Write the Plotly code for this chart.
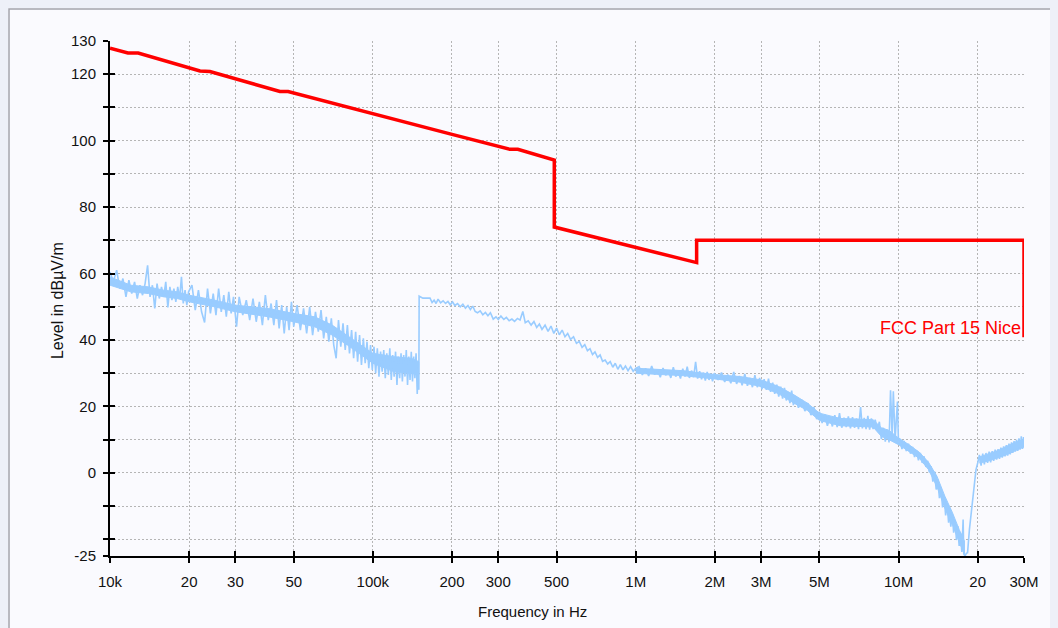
import math
import plotly.graph_objects as go

# ---------------- data ----------------
# Limit line "FCC Part 15 Nice" (frequency in kHz, level in dBuV/m)
limit_khz = [10, 11.7, 12.8, 22, 24, 44.3, 47.6, 100, 200, 332, 356, 490, 490, 1705, 1705, 30000, 30000]
limit_db = [127.8, 126.4, 126.4, 121.0, 120.8, 114.8, 114.8, 108.0, 101.9, 97.4, 97.4, 94.2, 74.0, 63.3, 70.0, 70.0, 40.8]

# Measured trace, split into frequency bands (kHz / dBuV/m)
seg1_khz = [10.0, 10.3, 10.6, 10.9, 11.2, 11.5, 11.8, 12.1, 12.4, 12.7, 13.0, 13.3, 13.6, 13.9, 14.2, 14.5, 14.8,
            15.1, 15.4, 15.7, 16.0, 16.3, 16.6, 16.9, 17.2, 17.5, 17.8, 18.1, 18.4, 18.7, 19.0, 19.3, 19.6, 19.9]
seg1_db = [60.5, 57.5, 61.0, 55.5, 58.5, 53.0, 58.0, 54.0, 57.5, 52.5, 56.5, 53.5, 57.0, 62.5, 53.0, 56.5, 49.5,
           57.0, 52.5, 56.0, 53.0, 57.5, 49.8, 56.0, 52.0, 55.5, 51.5, 56.0, 52.5, 59.0, 51.0, 55.0, 50.5, 54.5]

seg2_khz = [20.5, 21.1, 21.7, 22.3, 22.9, 23.5, 24.1, 24.7, 25.3, 25.9, 26.5, 27.1, 27.7, 28.3, 28.9, 29.5,
            30.3, 31, 32, 33, 34, 35, 36, 37, 38, 39, 40, 41, 42, 43, 44, 45, 46, 47, 48, 49, 50]
seg2_db = [56.5, 49.0, 55.0, 48.5, 45.3, 55.5, 48.0, 54.0, 47.5, 55.5, 48.5, 53.5, 47.0, 54.5, 48.0, 53.0,
           44.0, 53.0, 47.5, 52.0, 46.0, 52.5, 45.5, 51.5, 44.5, 53.5, 46.0, 51.0, 44.5, 52.0, 43.5, 50.5, 42.0,
           50.0, 43.0, 51.5, 44.0]

seg3_khz = [51.5, 53, 54.5, 56, 57.5, 59, 60.5, 62, 63.5, 65, 66.5, 68, 69.5, 71, 72.5, 74, 75.5, 77, 78.5, 80,
            81.5, 83, 84.5, 86, 87.5, 89, 90.5, 92, 93.5, 95, 96.5, 98, 99.5]
seg3_db = [50.5, 43.0, 49.5, 42.0, 50.0, 41.5, 48.5, 42.5, 49.0, 40.5, 47.0, 39.5, 46.5, 38.5, 34.5, 46.0, 38.0,
           45.0, 37.0, 44.5, 36.0, 43.0, 34.5, 42.5, 33.5, 41.5, 32.5, 40.5, 33.0, 39.5, 31.5, 38.5, 31.0]

seg4_khz = [101, 102.5, 104, 105.5, 107, 108.5, 110, 111.5, 113, 114.5, 116, 117.5, 119, 120.5, 122, 123.5, 125,
            126.5, 128, 129.5, 131, 132.5, 134, 135.5, 137, 138.5, 140, 141.5, 143, 144.5, 146, 147.5, 149, 149.6]
seg4_db = [38.0, 30.0, 37.5, 29.0, 36.5, 30.5, 37.0, 28.5, 36.0, 29.5, 37.5, 28.0, 35.5, 29.0, 36.5, 26.5, 35.0,
           28.5, 36.0, 27.5, 35.5, 29.0, 37.0, 26.5, 35.0, 28.0, 36.5, 27.5, 35.0, 28.5, 36.0, 23.8, 33.5, 25.0]

seg5_khz = [150, 155, 160, 165, 168, 171, 174, 177, 181, 185, 189, 193, 197, 201, 205, 210, 215, 220, 225, 230,
            235, 240, 245, 250, 256, 262, 268, 274, 280, 287, 294, 300, 307, 315, 322, 330, 338, 346, 355, 363,
            372, 380, 390, 400, 410, 420, 430, 440, 452, 464, 476, 488, 500, 512, 525, 538, 551, 565, 580, 595,
            610, 625, 640, 655, 670, 685, 700, 716, 732, 748, 765, 782, 800, 818, 836, 855, 874, 894, 914, 935,
            956, 978, 1000]
seg5_db = [53.2, 52.6, 52.6, 52.6, 51.3, 52.0, 51.0, 52.3, 51.2, 51.8, 51.0, 51.6, 50.6, 51.5, 50.4, 51.0, 50.0,
           50.8, 49.6, 50.4, 49.2, 50.2, 48.6, 48.2, 48.8, 47.6, 48.3, 47.3, 48.2, 46.3, 47.0, 46.2, 47.2, 46.2,
           46.8, 45.8, 46.3, 45.6, 46.5, 46.0, 48.6, 45.2, 45.8, 44.5, 45.6, 43.8, 44.8, 43.2, 44.5, 42.6, 44.2,
           42.0, 43.6, 41.6, 43.0, 41.0, 42.0, 40.2, 41.0, 39.0, 39.6, 37.8, 38.6, 36.8, 37.4, 35.6, 36.4, 34.8,
           35.5, 33.6, 34.0, 32.8, 33.5, 31.8, 33.0, 31.2, 32.6, 31.0, 32.2, 30.8, 32.0, 30.6, 31.5]

seg6_khz = [1030, 1060, 1090, 1120, 1150, 1180, 1210, 1240, 1270, 1300, 1330, 1360, 1390, 1420, 1450, 1480, 1510,
            1540, 1570, 1600, 1630, 1660, 1690, 1720, 1750, 1780, 1810, 1840, 1870, 1900, 1930, 1960, 1990]
seg6_db = [32.0, 29.5, 31.5, 29.2, 32.2, 29.6, 31.0, 28.8, 31.6, 29.4, 30.8, 28.6, 31.8, 29.0, 30.6, 28.4, 31.4,
           29.0, 32.0, 28.6, 30.8, 28.8, 33.4, 28.4, 30.6, 28.2, 30.2, 27.8, 30.4, 28.0, 29.8, 27.6, 30.0]

seg7_khz = [2060, 2120, 2180, 2240, 2300, 2360, 2420, 2480, 2540, 2600, 2660, 2720, 2780, 2840, 2900, 2960, 3020,
            3080, 3140, 3200, 3260, 3320, 3380, 3440, 3500, 3560, 3620, 3680, 3740, 3800, 3860, 3920, 3980]
seg7_db = [28.0, 30.2, 27.4, 29.6, 27.0, 30.4, 26.8, 29.2, 26.4, 29.8, 26.2, 28.6, 25.8, 29.4, 25.8, 28.6, 25.2,
           28.2, 25.0, 28.4, 24.4, 27.2, 23.8, 26.6, 23.0, 26.0, 22.4, 25.6, 21.8, 24.2, 21.0, 24.8, 20.4]

seg8_khz = [4040, 4160, 4280, 4400, 4520, 4640, 4760, 4880, 5000, 5120, 5240, 5360, 5480, 5600, 5720, 5840, 5960,
            6080, 6200, 6320, 6440, 6560, 6680, 6800, 6920, 7040, 7170, 7280, 7400, 7520, 7640, 7760, 7880, 8000]
seg8_db = [23.2, 19.6, 22.0, 18.6, 21.0, 17.4, 19.8, 16.2, 18.4, 15.0, 17.6, 14.2, 16.8, 14.0, 17.4, 13.8, 18.0,
           13.6, 16.6, 13.8, 17.0, 13.4, 16.8, 13.6, 16.4, 13.2, 19.8, 13.4, 16.6, 13.2, 17.2, 13.0, 16.4, 13.2]

seg9_khz = [8150, 8300, 8450, 8600, 8750, 8900, 9050, 9200, 9320, 9450, 9550, 9700, 9900, 9980]
seg9_db = [16.0, 12.8, 15.4, 10.2, 13.6, 9.4, 13.0, 9.2, 24.9, 11.0, 24.6, 10.0, 21.5, 10.5]

seg10_khz = [10100, 10300, 10500, 10700, 10900, 11100, 11300, 11500, 11700, 11900, 12100, 12300, 12500, 12700,
             12900, 13100, 13300, 13500, 13700, 13900, 14100, 14300, 14500, 14700, 14900, 15100, 15300, 15500,
             15600, 15800, 16000, 16200, 16400, 16600, 16800, 17000, 17200, 17400, 17600, 17700, 17900, 18100,
             18300, 18600, 19000, 19400, 19700, 20000]
seg10_db = [10.2, 7.2, 9.6, 6.6, 8.8, 5.8, 7.8, 4.8, 6.8, 3.8, 6.0, 3.0, 5.0, 1.8, 3.6, 0.2, 2.0, -2.6, 0.4,
            -5.0, -2.0, -7.6, -4.4, -10.4, -7.0, -12.8, -9.6, -15.0, -10.5, -16.2, -12.2, -18.0, -14.2, -20.2,
            -16.0, -22.0, -18.0, -23.8, -14.0, -24.4, -25.0, -24.2, -24.0, -17.0, -10.5, -3.5, 1.0, 3.0]

seg11_khz = [20300, 20600, 20900, 21200, 21500, 21800, 22100, 22400, 22700, 23000, 23300, 23600, 23900, 24200,
             24500, 24800, 25100, 25400, 25700, 26000, 26300, 26600, 26900, 27200, 27500, 27800, 28100, 28400,
             28700, 29000, 29300, 29600, 29900, 30000]
seg11_db = [5.4, 2.2, 5.8, 2.6, 6.0, 3.0, 6.4, 3.2, 6.6, 3.6, 7.0, 4.0, 7.2, 4.2, 7.6, 4.6, 8.0, 5.0, 8.4, 5.2,
            8.8, 5.6, 9.2, 6.0, 9.6, 6.4, 10.0, 6.6, 10.4, 7.0, 11.0, 7.2, 10.8, 9.0]

# Solid core of the noisy band (kHz, lower / upper level)
core1_khz = [10, 12, 14, 16, 18, 20, 25, 30, 40, 50, 60, 70, 80, 90, 100, 120, 140, 149.6]
core1_lo = [56.5, 54.5, 54.0, 53.0, 52.5, 51.5, 50.0, 48.5, 47.0, 45.5, 44.0, 41.5, 38.5, 35.5, 33.0, 30.5, 30.0, 29.5]
core1_hi = [59.0, 56.5, 56.0, 55.0, 54.5, 53.5, 52.0, 50.5, 49.5, 48.0, 47.0, 44.5, 41.5, 38.5, 36.0, 35.0, 34.5, 33.5]

core2_khz = [1000, 1500, 2000, 2500, 3000, 3500, 4000, 4500, 5000, 6000, 7000, 8000, 8600, 9200, 10000, 11000,
             12000, 13000, 14000, 15000, 16000, 17000, 17800]
core2_lo = [30.0, 29.3, 28.3, 27.3, 26.0, 23.8, 21.0, 18.8, 15.8, 14.2, 14.0, 13.8, 11.0, 10.0, 8.5, 6.4, 4.4, 1.0,
            -4.2, -10.6, -15.4, -20.8, -24.5]
core2_hi = [31.5, 30.8, 29.6, 29.0, 28.0, 26.0, 23.5, 21.0, 18.0, 16.4, 16.2, 16.0, 13.6, 12.8, 10.5, 8.4, 6.2, 3.2,
            -1.0, -7.0, -11.8, -17.0, -20.5]

core3_khz = [20300, 22000, 24000, 26000, 28000, 30000]
core3_lo = [3.0, 3.6, 4.6, 5.6, 6.8, 7.8]
core3_hi = [4.8, 5.8, 6.8, 8.2, 9.4, 10.0]

# Axis ticks
x_tick_hz = [1e4, 2e4, 3e4, 5e4, 1e5, 2e5, 3e5, 5e5, 1e6, 2e6, 3e6, 5e6, 1e7, 2e7, 3e7]
x_tick_text = ["10k", "20", "30", "50", "100k", "200", "300", "500", "1M", "2M", "3M", "5M", "10M", "20", "30M"]
y_tick_vals = [-25, -20, -10, 0, 10, 20, 30, 40, 50, 60, 70, 80, 90, 100, 110, 120, 130]
y_tick_text = ["-25", "", "", "0", "", "20", "", "40", "", "60", "", "80", "", "100", "", "120", "130"]

limit_label = "FCC Part 15 Nice"
x_title = "Frequency in Hz"
y_title = "Level in dBµV/m"

# ---------------- figure ----------------
BLUE = "#99CCFF"
segments_khz = [seg1_khz, seg2_khz, seg3_khz, seg4_khz, seg5_khz, seg6_khz, seg7_khz, seg8_khz, seg9_khz,
                seg10_khz, seg11_khz]
segments_db = [seg1_db, seg2_db, seg3_db, seg4_db, seg5_db, seg6_db, seg7_db, seg8_db, seg9_db, seg10_db, seg11_db]
meas_hz = [f * 1000 for seg in segments_khz for f in seg]
meas_db = [v for seg in segments_db for v in seg]

FONT = "Liberation Sans, Arial, sans-serif"
x_range = [4, math.log10(3e7)]
y_range = [-25, 130]

fig = go.Figure()
for ck, lo, hi in [(core1_khz, core1_lo, core1_hi), (core2_khz, core2_lo, core2_hi), (core3_khz, core3_lo, core3_hi)]:
    xs = [f * 1000 for f in ck] + [f * 1000 for f in ck[::-1]]
    ys = list(lo) + list(hi[::-1])
    fig.add_trace(go.Scatter(x=xs, y=ys, mode="lines", fill="toself", fillcolor=BLUE,
                             line=dict(color=BLUE, width=1), hoverinfo="skip", showlegend=False))
fig.add_trace(go.Scatter(x=meas_hz, y=meas_db, mode="lines",
                         line=dict(color=BLUE, width=1.6), hoverinfo="skip", showlegend=False))
fig.add_trace(go.Scatter(x=[f * 1000 for f in limit_khz], y=limit_db, mode="lines",
                         line=dict(color="#FF0000", width=3.5), hoverinfo="skip", showlegend=False))
# dummy trace for the overlay axes (inner half of the crossing ticks)
fig.add_trace(go.Scatter(x=[None], y=[None], xaxis="x2", yaxis="y2", showlegend=False, hoverinfo="skip"))

common_tick = dict(ticklen=5, tickwidth=2, tickcolor="black")
TICKFONT = dict(family=FONT, size=15, color="#111111")
fig.update_layout(
    width=1050, height=620, autosize=False,
    margin=dict(l=102, r=34, t=33, b=72),
    paper_bgcolor="#FAFAFE",
    plot_bgcolor="#FAFAFE",
    showlegend=False,
    font=dict(family=FONT, size=15, color="#111111"),
    xaxis=dict(type="log", range=x_range, tickvals=x_tick_hz, ticktext=x_tick_text,
               ticks="outside", showline=True, linewidth=2, linecolor="black",
               showgrid=True, gridcolor="#B5B5B5", gridwidth=1, griddash="2px,2px",
               zeroline=False, tickfont=TICKFONT, ticklabelstandoff=6, **common_tick),
    yaxis=dict(range=y_range, tickvals=y_tick_vals, ticktext=y_tick_text,
               ticks="outside", showline=True, linewidth=2, linecolor="black",
               showgrid=True, gridcolor="#B5B5B5", gridwidth=1, griddash="2px,2px",
               zeroline=False, tickfont=TICKFONT, ticklabelstandoff=4, **common_tick),
    xaxis2=dict(type="log", range=x_range, tickvals=x_tick_hz, overlaying="x", anchor="y", side="bottom",
                ticks="inside", showticklabels=False, showgrid=False, showline=False, zeroline=False,
                **common_tick),
    yaxis2=dict(range=y_range, tickvals=y_tick_vals, overlaying="y", anchor="x", side="left",
                ticks="inside", showticklabels=False, showgrid=False, showline=False, zeroline=False,
                **common_tick),
    shapes=[dict(type="rect", xref="paper", yref="paper", x0=-0.1105, x1=1.2, y0=-0.3, y1=1.0621,
                 line=dict(color="#A4A4AC", width=1.5), fillcolor="rgba(0,0,0,0)", layer="below")],
    annotations=[
        dict(text=limit_label, xref="paper", yref="y", x=1.0, y=43.7, xanchor="right", yanchor="middle",
             xshift=-1, showarrow=False, font=dict(family=FONT, size=18, color="#FF0000")),
        dict(text=x_title, xref="paper", yref="paper", x=0.4628, y=-0.1087, xanchor="center",
             yanchor="middle", showarrow=False, font=dict(family=FONT, size=15, color="#111111")),
        dict(text=y_title, xref="paper", yref="paper", x=-0.058, y=0.497, xanchor="center",
             yanchor="middle", textangle=-90, showarrow=False, font=dict(family=FONT, size=16, color="#111111")),
    ],
)

# page background behind the figure (the lavender frame around the chart panel)
fig.write_html("out.html", post_script="document.body.style.background='#EEF0F8';")
